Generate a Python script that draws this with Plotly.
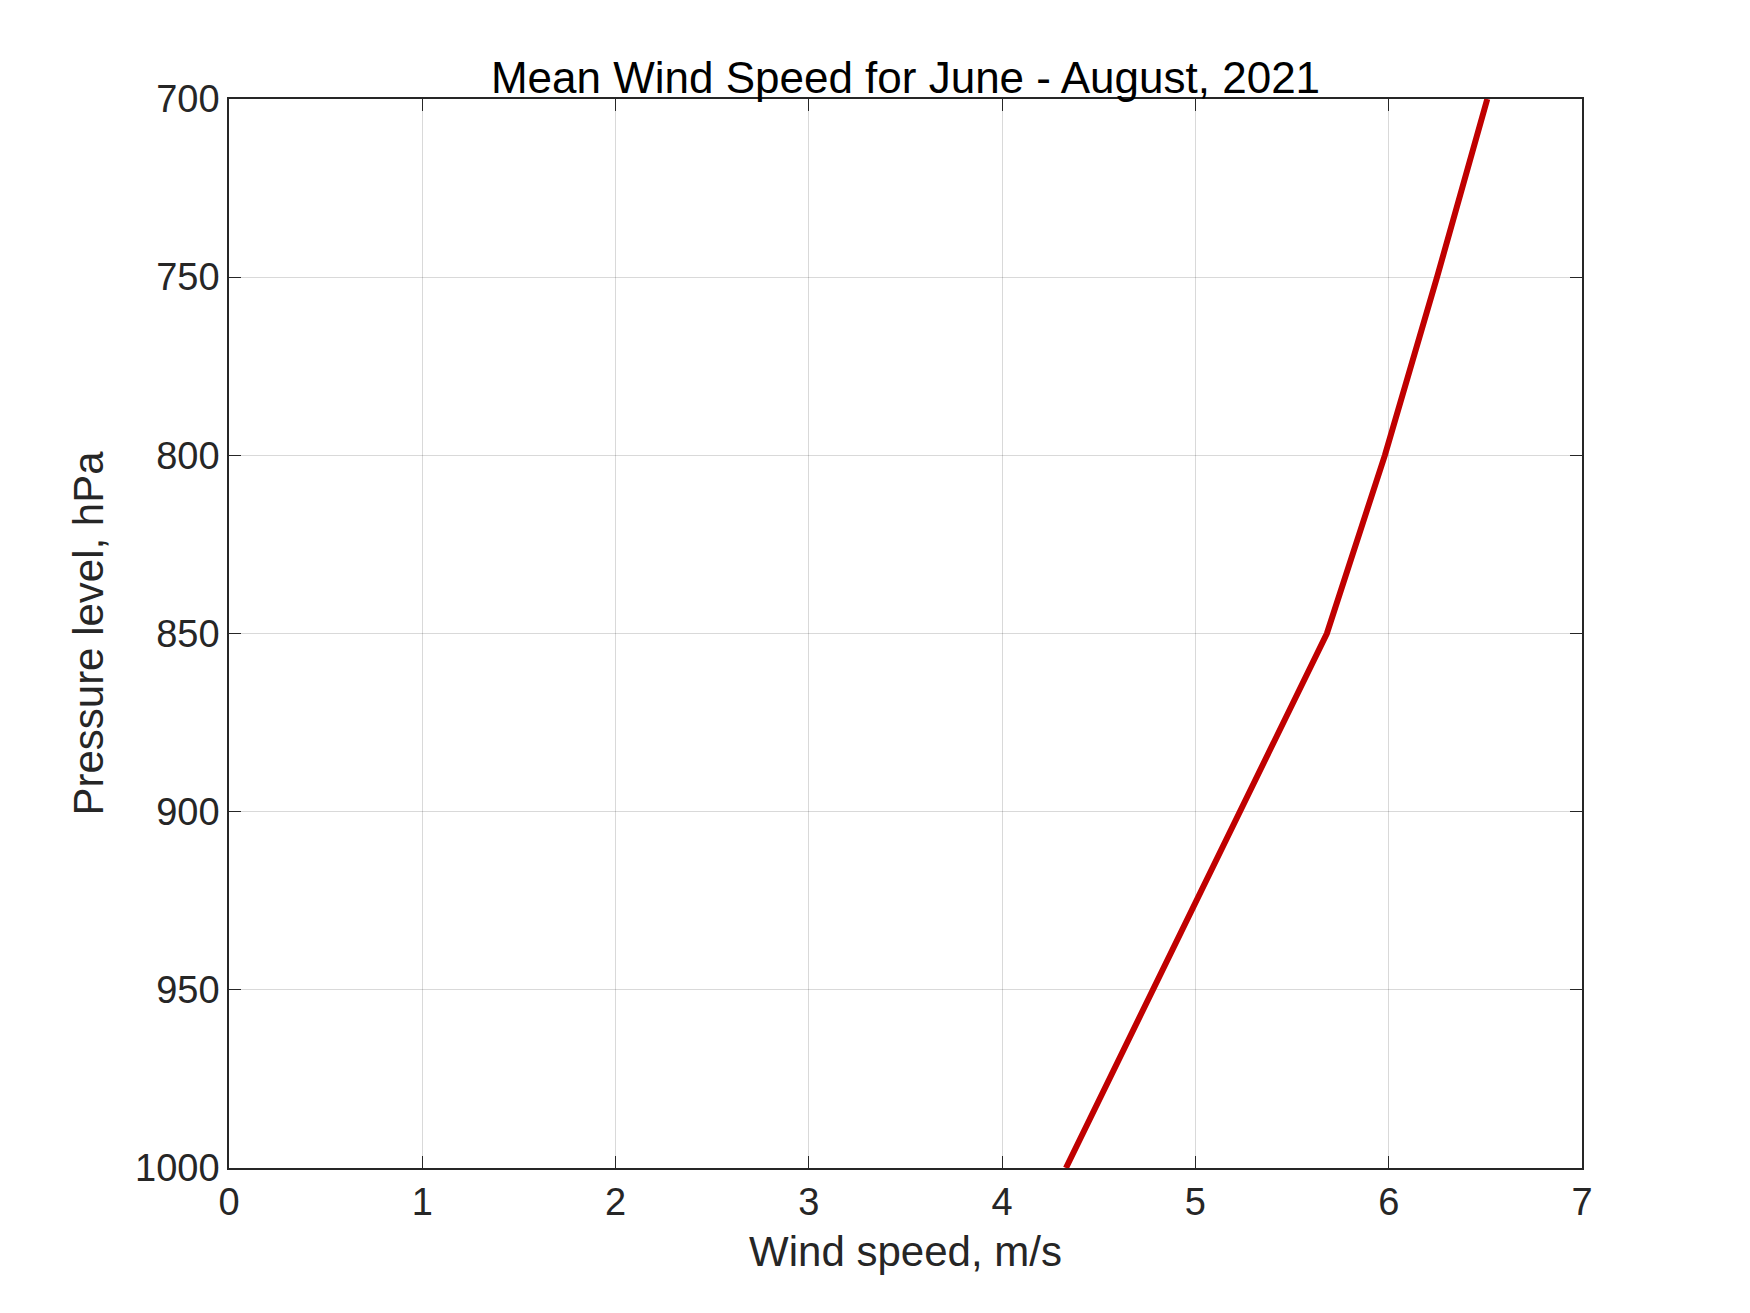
import plotly.graph_objects as go

pressure = [1000, 950, 900, 850, 800, 750, 700]
wind_speed = [4.33, 4.78, 5.23, 5.68, 5.98, 6.25, 6.51]

fig = go.Figure()
fig.add_trace(go.Scatter(x=wind_speed, y=pressure, mode="lines",
                         line=dict(color="#c00000", width=6), showlegend=False))

axis_style = dict(showline=True, linecolor="#262626", linewidth=1.5, mirror="ticks",
                  ticks="inside", ticklen=12, tickcolor="#262626",
                  showgrid=True, gridcolor="rgba(0,0,0,0.15)", zeroline=False,
                  tickfont=dict(size=38, color="#262626"))

fig.update_layout(
    width=1750, height=1313,
    paper_bgcolor="white", plot_bgcolor="white",
    font=dict(family="Liberation Sans, Arial", color="#262626"),
    title=dict(text="Mean Wind Speed for June - August, 2021", x=0.5, xanchor="center",
               xref="paper", yref="paper", y=1.0, yanchor="bottom",
               pad=dict(b=6), font=dict(size=44, color="black")),
    margin=dict(l=221, r=176, t=91, b=153),
    xaxis=dict(range=[0, 7], dtick=1, title=dict(text="Wind speed, m/s", font=dict(size=42), standoff=14), **axis_style),
    yaxis=dict(range=[1000, 700], dtick=50, title=dict(text="Pressure level, hPa", font=dict(size=42), standoff=18), **axis_style),
)

fig.write_html("out.html")
